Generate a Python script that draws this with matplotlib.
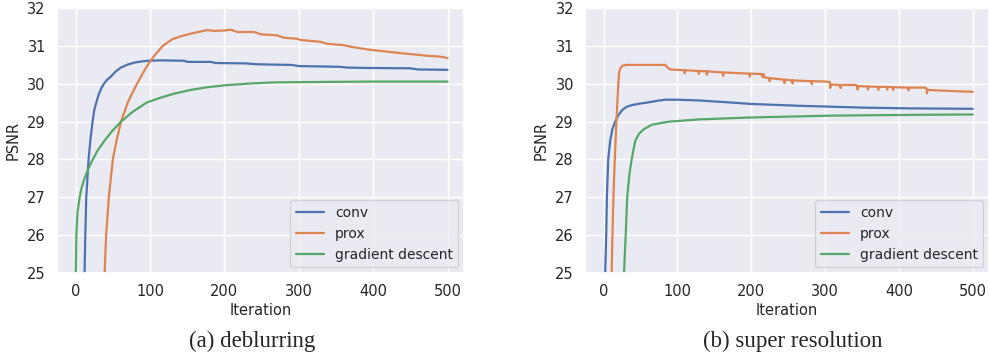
import matplotlib
matplotlib.use('Agg')
import matplotlib.pyplot as plt
import seaborn as sns

# datos: (a) deblurring
a_conv_x = [11, 12, 13, 14.3, 17.4, 20, 22.8, 25, 27.7, 31, 34.5, 38, 42, 47.8, 54, 61, 70, 79, 88, 97, 115, 146, 150, 182, 188, 230, 240, 260, 290, 300, 355, 365, 390, 450, 460, 500]
a_conv_y = [24.0, 25.0, 26.0, 27.0, 28.0, 28.55, 29.0, 29.3, 29.5, 29.72, 29.88, 30.0, 30.1, 30.2, 30.33, 30.43, 30.51, 30.56, 30.59, 30.61, 30.62, 30.61, 30.58, 30.58, 30.55, 30.54, 30.52, 30.51, 30.50, 30.47, 30.45, 30.43, 30.42, 30.41, 30.38, 30.37]

a_prox_x = [38, 39, 41, 44.6, 50, 55, 61, 70, 76, 82.6, 90, 97, 106, 117, 130, 143.7, 160, 177, 186, 200, 208.6, 217.5, 240, 249, 271, 280, 298, 302.6, 329, 338, 361, 370, 392, 414.5, 437, 459, 473, 490, 500]
a_prox_y = [24.5, 25.0, 26.0, 27.0, 28.0, 28.5, 29.0, 29.5, 29.75, 30.0, 30.27, 30.5, 30.75, 31.0, 31.18, 31.27, 31.35, 31.42, 31.40, 31.41, 31.43, 31.37, 31.37, 31.31, 31.28, 31.22, 31.19, 31.16, 31.11, 31.06, 31.02, 30.98, 30.91, 30.86, 30.81, 30.77, 30.74, 30.72, 30.68]

a_gd_x = [0, 0.3, 1, 2.5, 5.4, 8, 12, 17, 23, 30, 39, 49, 61, 76, 95, 112, 132.6, 155, 177, 200, 235, 270, 330, 400, 500]
a_gd_y = [24.0, 25.0, 26.0, 26.6, 27.0, 27.25, 27.5, 27.75, 28.0, 28.25, 28.5, 28.75, 29.0, 29.25, 29.5, 29.62, 29.74, 29.84, 29.91, 29.96, 30.01, 30.04, 30.05, 30.06, 30.06]

# (b) super resolution
b_conv_x = [1.8, 2.2, 3.6, 4.5, 6.3, 9, 12, 15.6, 20, 25.4, 31, 38.8, 50, 61, 72, 83.5, 101, 130, 177, 198, 265, 354, 420, 500]
b_conv_y = [24.0, 25.0, 26.0, 27.0, 28.0, 28.5, 28.8, 29.0, 29.17, 29.31, 29.39, 29.44, 29.48, 29.51, 29.55, 29.58, 29.58, 29.56, 29.50, 29.47, 29.42, 29.37, 29.35, 29.34]

b_prox_x = [10, 11, 12, 13.4, 15.2, 17.4, 20, 21, 23, 26, 30, 83.5, 86, 90, 99,
            109.4, 110, 110.6, 128.4, 129, 129.6, 139.4, 140, 140.6, 161.4, 162, 162.6, 175,
            197.4, 198, 198.6, 214.4, 215, 215.6, 217, 218, 224.4, 225, 225.6,
            244.4, 245, 245.6, 255.4, 256, 256.6, 281.4, 282, 282.6, 301,
            306.4, 307, 307.6, 320.4, 321, 321.6, 341, 343.4, 344, 344.6,
            357.4, 358, 358.6, 371.4, 372, 372.6, 383.4, 384, 384.6, 391.4, 392, 392.6,
            412.4, 413, 413.6, 435, 437.4, 438, 438.6, 470, 500]
b_prox_y = [24.5, 25.0, 26.0, 27.0, 28.0, 29.0, 30.0, 30.3, 30.42, 30.48, 30.5, 30.5, 30.44, 30.38, 30.37,
            30.36, 30.28, 30.36, 30.34, 30.26, 30.34, 30.33, 30.24, 30.33, 30.30, 30.21, 30.30, 30.29,
            30.27, 30.19, 30.27, 30.26, 30.18, 30.26, 30.25, 30.17, 30.15, 30.07, 30.15,
            30.11, 30.02, 30.11, 30.09, 30.01, 30.09, 30.07, 29.99, 30.07, 30.06,
            30.05, 29.89, 29.98, 29.97, 29.89, 29.97, 29.97, 29.95, 29.85, 29.94,
            29.93, 29.85, 29.93, 29.92, 29.84, 29.92, 29.92, 29.85, 29.92, 29.91, 29.84, 29.91,
            29.90, 29.83, 29.90, 29.90, 29.88, 29.75, 29.84, 29.81, 29.79]

b_gd_x = [27.2, 27.7, 30, 32, 35, 38, 43, 48, 54.5, 65.6, 88, 130, 198, 310, 420, 500]
b_gd_y = [24.0, 25.0, 26.0, 27.0, 27.6, 28.0, 28.5, 28.68, 28.8, 28.92, 29.0, 29.06, 29.11, 29.16, 29.18, 29.19]

series = {
    'a': [(a_conv_x, a_conv_y), (a_prox_x, a_prox_y), (a_gd_x, a_gd_y)],
    'b': [(b_conv_x, b_conv_y), (b_prox_x, b_prox_y), (b_gd_x, b_gd_y)],
}
nombres = ['conv', 'prox', 'gradient descent']
titulos = {'a': '(a) deblurring', 'b': '(b) super resolution'}

sns.set_theme(style='darkgrid')
plt.rcParams['font.family'] = ['DejaVu Sans']

fig = plt.figure(figsize=(9.9, 3.55), dpi=100)
ax_a = fig.add_axes([0.0576, 0.231, 0.411, 0.746])
ax_b = fig.add_axes([0.591, 0.231, 0.408, 0.746])

for clave, ax in [('a', ax_a), ('b', ax_b)]:
    for (x, y), nombre in zip(series[clave], nombres):
        ax.plot(x, y, label=nombre, linewidth=1.6)
    ax.set_ylim(25, 32)
    ax.set_xlim(-25, 522)
    ax.set_xticks([0, 100, 200, 300, 400, 500])
    ax.set_yticks([25, 26, 27, 28, 29, 30, 31, 32])
    ax.tick_params(labelsize=10.5, pad=2)
    ax.set_xlabel('Iteration', fontsize=10.5, labelpad=3)
    ax.set_ylabel('PSNR', fontsize=10.5, labelpad=5)
    ax.legend(loc='lower right', fontsize=10, borderaxespad=0.4)

# leyendas de cada panel
fig.text(0.2545, 0.039, titulos['a'], ha='center', va='center', fontsize=16.5, family='Liberation Serif')
fig.text(0.801, 0.039, titulos['b'], ha='center', va='center', fontsize=16.5, family='Liberation Serif')

fig.savefig('out.png', dpi=100)
